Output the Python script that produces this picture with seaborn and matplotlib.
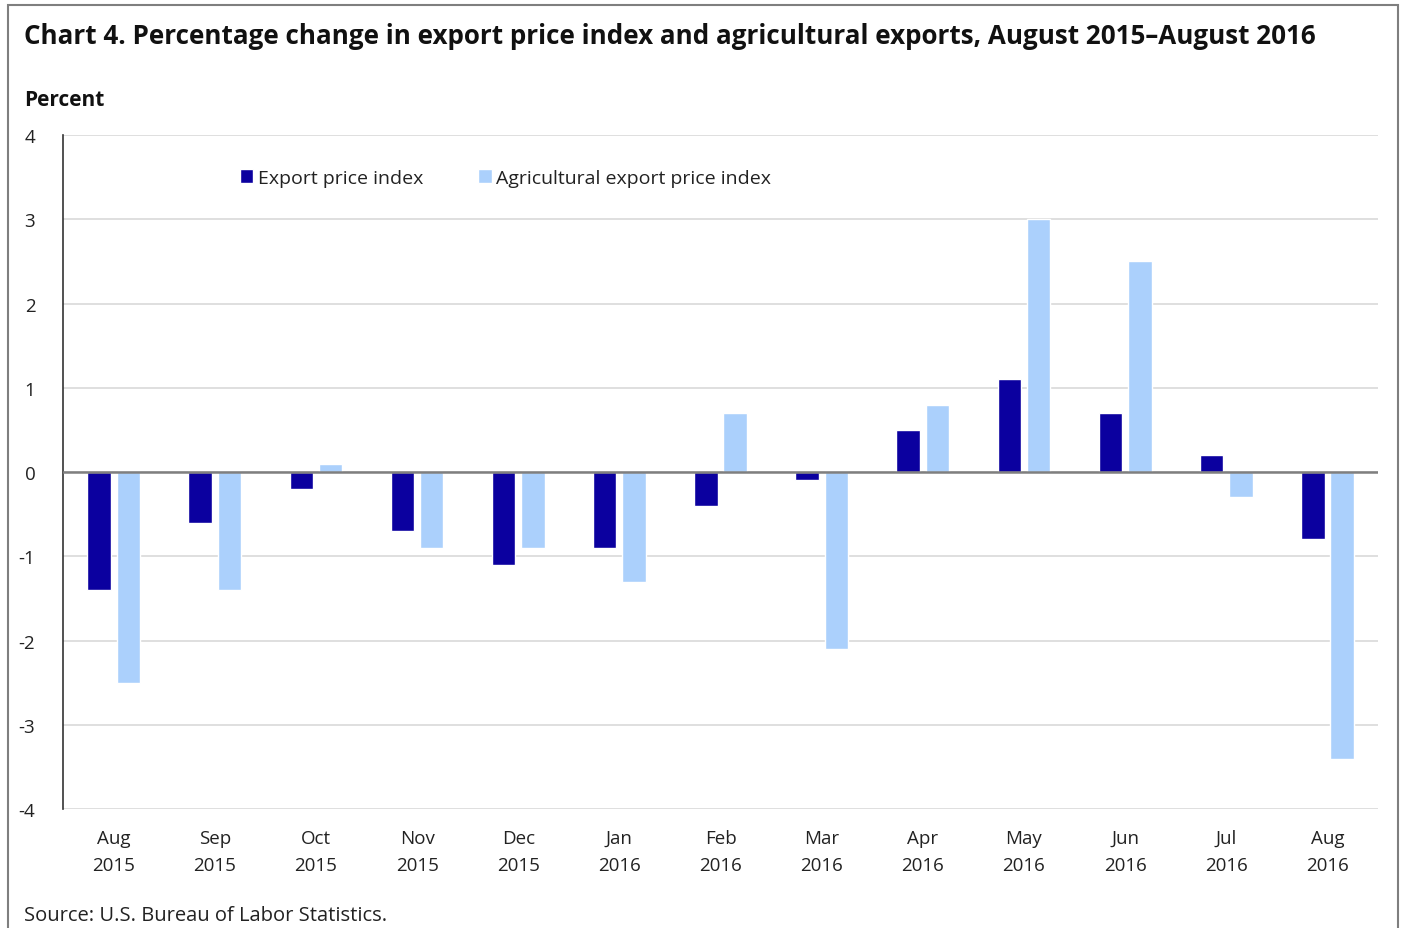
import matplotlib
matplotlib.use("Agg")
import matplotlib.pyplot as plt
import matplotlib.patches as mpatches
import seaborn as sns
import pandas as pd

months = ["Aug\n2015", "Sep\n2015", "Oct\n2015", "Nov\n2015", "Dec\n2015", "Jan\n2016",
          "Feb\n2016", "Mar\n2016", "Apr\n2016", "May\n2016", "Jun\n2016", "Jul\n2016", "Aug\n2016"]
export_idx = [-1.4, -0.6, -0.2, -0.7, -1.1, -0.9, -0.4, -0.1, 0.5, 1.1, 0.7, 0.2, -0.8]
ag_idx = [-2.5, -1.4, 0.1, -0.9, -0.9, -1.3, 0.7, -2.1, 0.8, 3.0, 2.5, -0.3, -3.4]
series_names = ["Export price index", "Agricultural export price index"]
yticks = [-4, -3, -2, -1, 0, 1, 2, 3, 4]

df = pd.DataFrame({
    "month": months * 2,
    "value": export_idx + ag_idx,
    "series": [series_names[0]] * len(months) + [series_names[1]] * len(months),
})

sns.set_theme(style="white")
plt.rcParams["font.family"] = ["Open Sans", "DejaVu Sans"]

fig = plt.figure(figsize=(14.01, 9.29), dpi=100)
ax = fig.add_axes([0.045, 0.128, 0.9386, 0.7256])

palette = {series_names[0]: "#0b009f", series_names[1]: "#abd0fc"}
sns.barplot(data=df, x="month", y="value", hue="series", order=months,
            hue_order=series_names, palette=palette, width=0.58, gap=0.2,
            saturation=1, ax=ax, errorbar=None)

ax.set_ylim(-4, 4)
ax.set_yticks(yticks)
ax.set_yticklabels([str(t) for t in yticks])
ax.set_xlim(-0.5, len(months) - 0.5)
ax.yaxis.grid(True, color="#d9d9d9", linewidth=1.2)
ax.set_axisbelow(True)
ax.axhline(0, color="#7f7f7f", linewidth=1.8, zorder=3)
for s in ["top", "right", "bottom"]:
    ax.spines[s].set_visible(False)
ax.spines["left"].set_color("#333333")
ax.spines["left"].set_linewidth(1.2)
ax.tick_params(axis="both", length=0, labelsize=13.5, colors="#222222")
ax.tick_params(axis="y", pad=20)
ax.tick_params(axis="x", pad=14)
for lbl in ax.get_xticklabels():
    lbl.set_linespacing(1.65)
ax.set_xlabel("")
ax.set_ylabel("")

leg = ax.legend(loc="upper left", bbox_to_anchor=(0.121, 0.976), ncol=2, frameon=False,
                fontsize=14, handlelength=0.7, handleheight=0.7, handletextpad=0.25,
                columnspacing=2.8)
for t in leg.get_texts():
    t.set_color("#222222")

fig.text(24 / 1401, 1 - 36 / 929, "Chart 4. Percentage change in export price index and agricultural exports, August 2015\u2013August 2016",
         fontsize=18.7, fontweight="bold", va="center", ha="left", color="#111111")
fig.text(24 / 1401, 1 - 101 / 929, "Percent", fontsize=15, fontweight="bold",
         va="center", ha="left", color="#111111")
fig.text(24 / 1401, 1 - 916 / 929, "Source: U.S. Bureau of Labor Statistics.", fontsize=14.5,
         va="center", ha="left", color="#222222")

frame = mpatches.Rectangle((8 / 1401, -0.01), (1398 - 8) / 1401, 1 - 6 / 929 + 0.01,
                           transform=fig.transFigure, fill=False, edgecolor="#7f7f7f",
                           linewidth=1.5)
fig.patches.append(frame)

fig.savefig("out.png", dpi=100)
